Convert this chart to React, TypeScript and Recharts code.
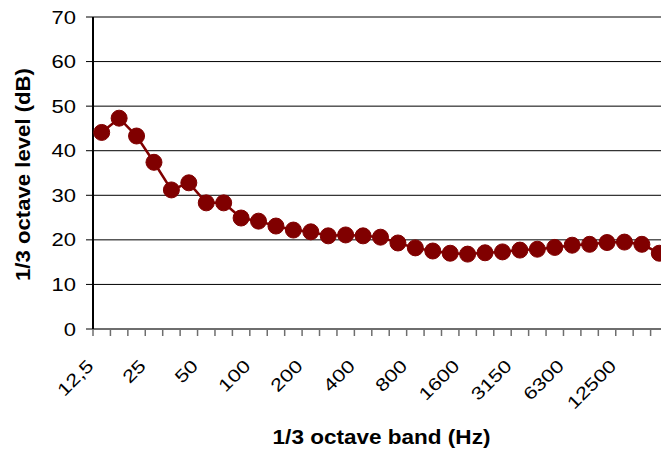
import React from 'react';
import { LineChart, Line, XAxis, YAxis, CartesianGrid, Label } from 'recharts';

const bands = ['12,5', '16', '20', '25', '31,5', '40', '50', '63', '80', '100', '125', '160', '200', '250', '315', '400', '500', '630', '800', '1000', '1250', '1600', '2000', '2500', '3150', '4000', '5000', '6300', '8000', '10000', '12500', '16000', '20000'];
const levels = [44.1, 47.3, 43.3, 37.4, 31.2, 32.8, 28.3, 28.3, 24.9, 24.2, 23.1, 22.2, 21.8, 20.9, 21.1, 20.9, 20.6, 19.3, 18.2, 17.5, 17.0, 16.8, 17.1, 17.3, 17.7, 17.9, 18.3, 18.8, 19.0, 19.4, 19.5, 19.0, 17.0];
const yTicks = [0, 10, 20, 30, 40, 50, 60, 70];
const labelEvery = 3;
const xTitle = '1/3 octave band (Hz)';
const yTitle = '1/3 octave level (dB)';

const data = bands.map((band, i) => ({ band, level: levels[i] }));

const FONT = '"Liberation Sans", Arial, sans-serif';
const HALF_BAND = 8.7;

const YTick = (props: any) => {
  const { x, y, payload } = props;
  return (
    <text transform={`translate(${x},${y + 6.5}) scale(1.25,1)`} textAnchor="end" fontSize={17.6} fontFamily={FONT} fill="#000">
      {payload.value}
    </text>
  );
};

const XTick = (props: any) => {
  const { x, y, payload, index } = props;
  const idx = typeof index === 'number' ? index : payload.index;
  const isLast = idx === bands.length - 1;
  return (
    <g>
      <line x1={x - HALF_BAND} x2={x - HALF_BAND} y1={y} y2={y + 7} stroke="#6e6e6e" strokeWidth={1.5} />
      {isLast && <line x1={x + HALF_BAND} x2={x + HALF_BAND} y1={y} y2={y + 7} stroke="#6e6e6e" strokeWidth={1.5} />}
      {idx % labelEvery === 0 && (
        <text transform={`translate(${x - 7},${y + 38}) rotate(-45) scale(1.25,1)`} textAnchor="end" fontSize={17.6} fontFamily={FONT} fill="#000">
          {payload.value}
        </text>
      )}
    </g>
  );
};

const XTitle = (props: any) => {
  const vb = props.viewBox;
  return (
    <text transform={`translate(${vb.x + vb.width / 2 + 1},${vb.y + 115}) scale(1.156,1)`} textAnchor="middle" fontSize={19.5} fontWeight="bold" fontFamily={FONT} fill="#000">
      {xTitle}
    </text>
  );
};

const YTitle = (props: any) => {
  const vb = props.viewBox;
  return (
    <text transform={`translate(${vb.x + 30},${vb.y + vb.height / 2 + 1.5}) rotate(-90) scale(1.136,1)`} textAnchor="middle" fontSize={19.5} fontWeight="bold" fontFamily={FONT} fill="#000">
      {yTitle}
    </text>
  );
};

export default function App() {
  return (
    <div style={{ position: 'absolute', left: 0, top: 0, width: 661, height: 452, overflow: 'hidden', background: '#fff' }}>
      <LineChart width={668} height={452} data={data} margin={{ top: 17, right: 0, bottom: 0, left: 0 }}>
        <CartesianGrid horizontal={true} vertical={false} stroke="#000" strokeWidth={1} />
        <XAxis
          dataKey="band"
          type="category"
          interval={0}
          padding={{ left: HALF_BAND, right: HALF_BAND }}
          height={123}
          tickLine={false}
          tickSize={0}
          tickMargin={0}
          axisLine={{ stroke: '#6e6e6e', strokeWidth: 2 }}
          tick={<XTick />}
        >
          <Label content={<XTitle />} />
        </XAxis>
        <YAxis
          domain={[0, 70]}
          ticks={yTicks}
          width={93}
          interval={0}
          tickSize={7}
          tickMargin={10}
          axisLine={{ stroke: '#000', strokeWidth: 2 }}
          tickLine={{ stroke: '#000', strokeWidth: 1 }}
          tick={<YTick />}
        >
          <Label content={<YTitle />} />
        </YAxis>
        <Line
          type="linear"
          dataKey="level"
          stroke="#800000"
          strokeWidth={2.5}
          dot={{ r: 8, fill: '#800000', stroke: '#800000', strokeWidth: 1 }}
          activeDot={false}
          isAnimationActive={false}
        />
      </LineChart>
    </div>
  );
}
